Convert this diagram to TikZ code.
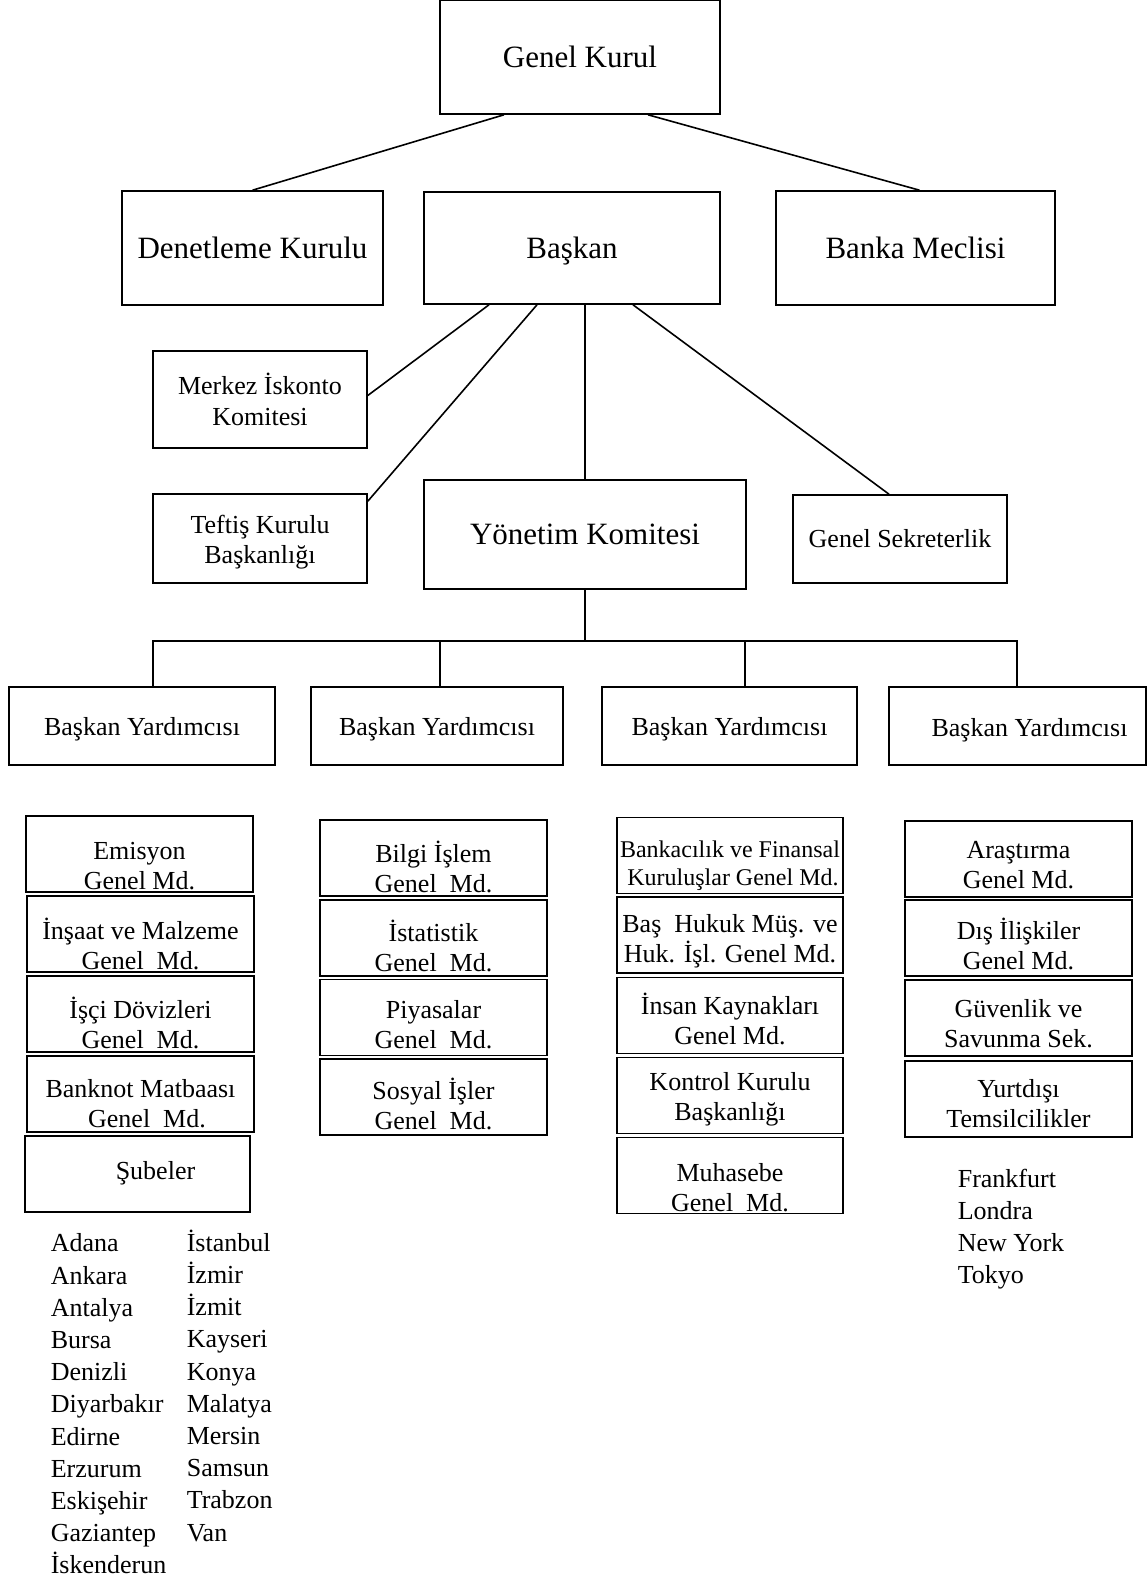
\documentclass[tikz,border=0pt]{standalone}
\usepackage{fontspec}
\setmainfont{Liberation Serif}
\usepackage{tikz}

\tikzset{
    big/.style={draw, rectangle, inner sep=0pt, text depth=0pt, font=\fontsize{31}{36}\selectfont},
    mid/.style={draw, rectangle, inner sep=0pt, align=center, font=\fontsize{26}{31}\selectfont},
    byx/.style={mid, minimum height=78pt, text depth=0pt, yshift=0pt},
    col/.style={draw, rectangle, inner sep=0pt, minimum width=227pt, minimum height=76pt},
    coltext/.style={inner sep=0pt, align=center, font=\fontsize{26}{30}\selectfont},
    citylist/.style={inner sep=0pt, align=left, anchor=north west, font=\fontsize{26}{32.2}\selectfont},
}

\begin{document}
\begin{tikzpicture}[x=1pt, y=-1pt, line width=1.6pt]
    \useasboundingbox (0,0) rectangle (1148,1580);

    %oberste Ebene
    \node[big, minimum width=280pt, minimum height=114pt] (gk) at (580,57) {Genel Kurul};
    \node[big, minimum width=261pt, minimum height=114pt] (dk) at (252.5,248) {Denetleme Kurulu};
    \node[big, minimum width=296pt, minimum height=112pt] (bs) at (572,248) {Başkan};
    \node[big, minimum width=279pt, minimum height=114pt] (bm) at (915.5,248) {Banka Meclisi};

    \draw ([xshift=-76pt]gk.south) -- (dk.north);
    \draw ([xshift=68pt]gk.south) -- ([xshift=4pt]bm.north);

    %unter dem Baskan
    \node[mid, minimum width=214pt, minimum height=97pt] (mik) at (260,399.5) {Merkez İskonto\\Komitesi};
    \node[draw, rectangle, minimum width=214pt, minimum height=89pt,
        label={[coltext, yshift=-4pt]center:{Teftiş Kurulu\\Başkanlığı}}] (tk) at (260,538.5) {};
    \node[big, minimum width=322pt, minimum height=109pt] (yk) at (585,534.5) {Yönetim Komitesi};
    \node[mid, minimum width=214pt, minimum height=88pt] (gs) at (900,539) {Genel Sekreterlik};

    \draw ([xshift=-83pt]bs.south) -- ([yshift=4pt]mik.east);
    \draw ([xshift=-35pt]bs.south) -- ([yshift=-8pt]tk.north east);
    \draw ([xshift=13pt]bs.south) -- (yk.north);
    \draw ([xshift=61pt]bs.south) -- ([xshift=-11pt]gs.north);

    %Baskan Yardimcisi
    \node[byx, minimum width=266pt] (by1) at (142,726) {Başkan Yardımcısı};
    \node[byx, minimum width=252pt] (by2) at (437,726) {Başkan Yardımcısı};
    \node[byx, minimum width=255pt] (by3) at (729.5,726) {Başkan Yardımcısı};
    \node[draw, rectangle, minimum width=257pt, minimum height=78pt,
        label={[coltext, xshift=12pt, yshift=-4pt]center:Başkan Yardımcısı}] (by4) at (1017.5,726) {};

    \coordinate (bus) at (585,641);
    \draw (yk.south) -- (bus);
    \draw ([xshift=11pt]by1.north) |- (bus) -| ([xshift=-0.5pt]by4.north);
    \draw ([xshift=3pt]by2.north) -- ++(0,-46);
    \draw ([xshift=15.5pt]by3.north) -- ++(0,-46);

    %Spalte 1
    \node[col, label={[coltext, yshift=-12pt]center:{Emisyon\\Genel Md.}}] (emis) at (139.5,854) {};
    \node[col, label={[coltext, yshift=-10pt]center:{İnşaat ve Malzeme\\Genel\ \ Md.}}] (insa) at (140.5,934) {};
    \node[col, label={[coltext, yshift=-9pt]center:{İşçi Dövizleri\\Genel\ \ Md.}}] (isci) at (140.5,1014) {};
    \node[col, label={[coltext, yshift=-10pt]center:{Banknot Matbaası\\\ \ Genel\ \ Md.}}] (bank) at (140.5,1094) {};
    \node[col, minimum width=225pt, label={[coltext, xshift=18pt, yshift=1pt]center:Şubeler}] (sube) at (137.5,1174) {};

    \node[citylist] (city1) at (50,1233) {Adana\\Ankara\\Antalya\\Bursa\\Denizli\\Diyarbakır\\Edirne\\Erzurum\\Eskişehir\\Gaziantep\\İskenderun};
    \node[citylist] (city2) at (186,1229) {İstanbul\\İzmir\\İzmit\\Kayseri\\Konya\\Malatya\\Mersin\\Samsun\\Trabzon\\Van};

    %Spalte 2
    \node[col, label={[coltext, yshift=-9pt]center:{Bilgi İşlem\\Genel\ \ Md.}}] (bilg) at (433.5,858) {};
    \node[col, label={[coltext, yshift=-8pt]center:{İstatistik\\Genel\ \ Md.}}] (ista) at (433.5,938) {};
    \node[col, label={[coltext, yshift=-7pt]center:{Piyasalar\\Genel\ \ Md.}}] (piya) at (433.5,1017.5) {};
    \node[col, label={[coltext, yshift=-7pt]center:{Sosyal İşler\\Genel\ \ Md.}}] (sosy) at (433.5,1097) {};

    %Spalte 3
    \node[col, minimum width=226pt, label={[coltext, yshift=-10pt, font=\fontsize{24}{28}\selectfont]center:{Bankacılık ve Finansal\\\ Kuruluşlar Genel Md.}}] (bfk) at (730,855.5) {};
    \node[col, minimum width=226pt, label={[coltext, yshift=-6pt]center:{Baş\ \ Hukuk Müş. ve\\Huk. İşl. Genel Md.}}] (hukk) at (730,935) {};
    \node[col, minimum width=226pt, label={[coltext, yshift=-3pt]center:{İnsan Kaynakları\\Genel Md.}}] (insn) at (730,1015.5) {};
    \node[col, minimum width=226pt, label={[coltext, yshift=-4pt]center:{Kontrol Kurulu\\Başkanlığı}}] (kont) at (730,1095.5) {};
    \node[col, minimum width=226pt, label={[coltext, yshift=-12pt]center:{Muhasebe\\Genel\ \ Md.}}] (muha) at (730,1175.5) {};

    %Spalte 4
    \node[col, label={[coltext, yshift=-6pt]center:{Araştırma\\Genel Md.}}] (aras) at (1018.5,859) {};
    \node[col, label={[coltext, yshift=-6pt]center:{Dış İlişkiler\\Genel Md.}}] (disi) at (1018.5,938) {};
    \node[col, label={[coltext, yshift=-6pt]center:{Güvenlik ve\\Savunma Sek.}}] (guve) at (1018.5,1018) {};
    \node[col, label={[coltext, yshift=-5pt]center:{Yurtdışı\\Temsilcilikler}}] (yurt) at (1018.5,1099) {};

    \node[citylist] (city3) at (957,1168) {Frankfurt\\Londra\\New York\\Tokyo};
\end{tikzpicture}
\end{document}
